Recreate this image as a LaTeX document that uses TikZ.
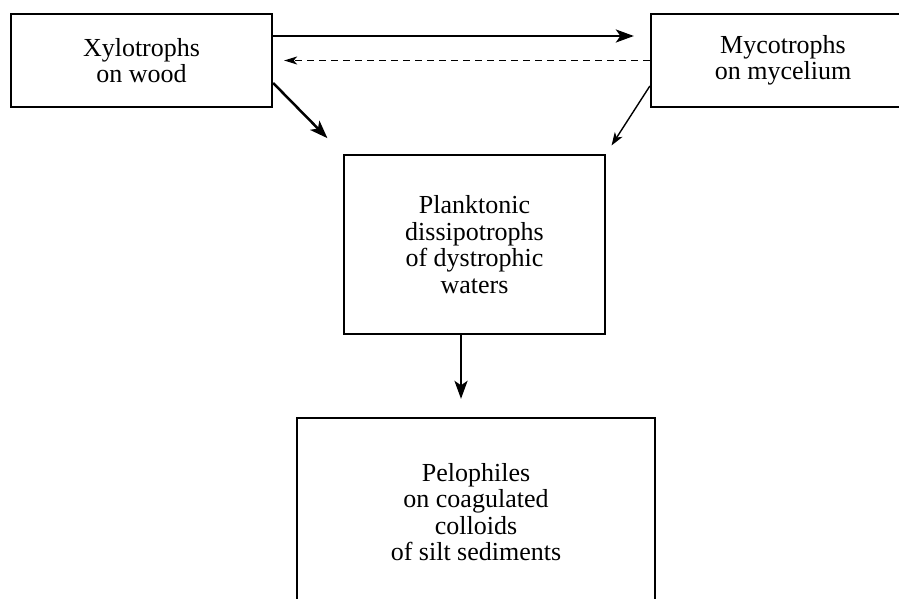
\documentclass[tikz,border=0pt]{standalone}
\usepackage{fontspec}
\setmainfont{Liberation Serif}
\usetikzlibrary{arrows.meta,calc}
\tikzset{
  box/.style={draw, line width=2.3pt, inner sep=0pt, align=center,
    font=\fontsize{26}{26.5}\selectfont},
  thickarrow/.style={line width=2.5pt, -{Stealth[length=18pt,width=13pt,inset=4.5pt]}},
  thinarrow/.style={line width=1.4pt, -{Stealth[length=13pt,width=9pt,inset=3.5pt]}},
  dasharrow/.style={line width=1.3pt, dash pattern=on 7pt off 5pt, -{Stealth[length=13pt,width=8pt,inset=3.5pt]}}
}
\begin{document}
\begin{tikzpicture}[x=1pt,y=-1pt]
\useasboundingbox (0,0) rectangle (899,599);
\node[box, minimum width=261pt, minimum height=93pt] (X) at (141.5,60.5) {Xylotrophs\\on wood};
\node[box, minimum width=264pt, minimum height=93pt] (M) at (783,60.5) {Mycotrophs\\on mycelium};
\node[box, minimum width=261pt, minimum height=179pt] (P) at (474.5,244.5) {Planktonic\\dissipotrophs\\of dystrophic\\waters};
\node[box, minimum width=358pt, minimum height=188pt] (L) at (476,512) {Pelophiles\\on coagulated\\colloids\\of silt sediments};
\draw[thickarrow, shorten >=16pt] ($(X.east)+(0,-24.5)$) -- ($(M.west)+(0,-24.5)$);
\draw[dasharrow, shorten >=11pt] (M.west) -- (X.east);
\draw[thickarrow, shorten >=22pt] ($(X.east)+(0,22.5)$) -- (P.north west);
\draw[thinarrow, shorten >=10pt] ($(M.west)+(0,25.5)$) -- (P.north east);
\draw[thickarrow, shorten >=18pt] ($(P.south)+(-13.5,0)$) -- ($(L.north)+(-15,0)$);
\end{tikzpicture}
\end{document}
